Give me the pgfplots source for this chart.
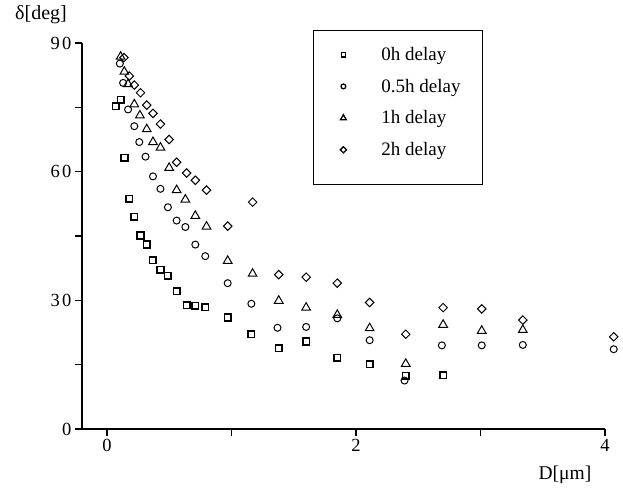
\documentclass[border=0pt]{standalone}
\usepackage{fontspec}
\setmainfont{Liberation Serif}
\newfontfamily\ticksfont[LetterSpace=12]{Liberation Serif}
\usepackage{pgfplots}
\pgfplotsset{compat=1.18}
\pgfplotsset{
 legimg/.style={legend image code/.code={\path[draw=none,fill=none] (0pt,-6pt) rectangle (46pt,6pt); \draw[##1] plot coordinates {(10pt,0pt)};}},
 legimglast/.style={legend image code/.code={\path[draw=none,fill=none] (0pt,-20pt) rectangle (46pt,6pt); \draw[##1] plot coordinates {(10pt,0pt)};}},
}
\begin{document}
\begin{tikzpicture}
\begin{axis}[
 scale only axis, width=523pt, height=386pt,
 xmin=-0.2, xmax=4, ymin=0, ymax=90,
 axis x line=bottom, axis y line=left,
 axis line style={-, line width=1.2pt},
 tick align=outside, major tick length=7pt, minor tick length=7pt,
 every tick/.style={line width=1.2pt, black},
 xtick={0,2,4}, minor xtick={1,3},
 ytick={0,30,60,90}, minor ytick={15,45,75},
 /pgf/number format/assume math mode=true,
 tick label style={font=\ticksfont\fontsize{18.5}{20}\selectfont},
 clip=false,
 xlabel={D[μm]},
 xlabel style={at={(axis description cs:0.9235,-0.119)}, anchor=center, font=\fontsize{19.5}{21}\selectfont},
 ylabel={δ[deg]},
 ylabel style={rotate=-90, at={(axis description cs:-0.0784,1.0725)}, anchor=center, font=\fontsize{20}{22}\selectfont},
 legend style={at={(axis description cs:0.4417,1.0337)}, anchor=north west, draw=black, line width=0.8pt,
   font=\fontsize{19}{21}\selectfont, row sep=13pt, inner xsep=20pt, inner ysep=15pt},
 legend cell align=left,
 legimg,
]
\addplot[only marks, mark=square, mark size=3.3pt, mark options={line width=1.6pt}, legend image post style={mark size=2.2pt, mark options={line width=1.4pt}}] coordinates {
(0.072,75.3) (0.11,76.8) (0.142,63.2) (0.18,53.7) (0.22,49.5) (0.27,45.1) (0.32,43.0)
(0.37,39.4) (0.43,37.1) (0.49,35.7) (0.56,32.1) (0.64,28.9) (0.71,28.7) (0.79,28.4)
(0.97,26.0) (1.16,22.1) (1.38,18.8) (1.60,20.4) (1.85,16.6) (2.11,15.1) (2.40,12.4) (2.70,12.5)
};
\addlegendentry{0h delay}
\addplot[only marks, mark=o, mark size=3.5pt, mark options={line width=1pt}, legend image post style={mark size=2.4pt, mark options={line width=1.3pt}}] coordinates {
(0.104,85.2) (0.13,80.7) (0.17,74.5) (0.22,70.6) (0.26,66.9) (0.31,63.5) (0.37,58.9)
(0.43,56.0) (0.49,51.7) (0.56,48.6) (0.63,47.1) (0.71,43.0) (0.79,40.3) (0.97,34.0)
(1.16,29.2) (1.37,23.6) (1.60,23.8) (1.85,25.8) (2.11,20.7) (2.39,11.3) (2.69,19.5)
(3.01,19.5) (3.34,19.6) (4.07,18.6)
};
\addlegendentry{0.5h delay}
\addplot[only marks, mark=triangle, mark size=5pt, mark options={line width=1pt}, legend image post style={mark size=3.4pt, mark options={line width=1.3pt}}] coordinates {
(0.11,86.8) (0.14,83.3) (0.17,80.4) (0.22,75.7) (0.265,73.1) (0.32,69.9) (0.37,66.9)
(0.43,65.6) (0.50,60.9) (0.56,55.7) (0.63,53.5) (0.71,49.7) (0.80,47.2) (0.97,39.2)
(1.17,36.2) (1.38,29.9) (1.60,28.3) (1.85,26.6) (2.11,23.5) (2.40,15.2) (2.70,24.3)
(3.01,22.9) (3.34,23.1)
};
\addlegendentry{1h delay}
\addplot[only marks, mark=square, mark size=3pt, mark options={line width=1pt, rotate=45}, legend image post style={mark size=2.2pt, mark options={line width=1.3pt, rotate=45}}, legimglast] coordinates {
(0.137,86.6) (0.18,82.3) (0.22,80.2) (0.27,78.4) (0.32,75.5) (0.37,73.6) (0.43,71.1)
(0.50,67.5) (0.56,62.2) (0.64,59.7) (0.71,58.0) (0.80,55.7) (0.97,47.3) (1.17,52.9)
(1.38,36.0) (1.60,35.4) (1.85,34.0) (2.11,29.5) (2.40,22.1) (2.70,28.3) (3.01,28.0)
(3.34,25.4) (4.07,21.5)
};
\addlegendentry{2h delay}
\end{axis}
\pgfresetboundingbox
\path (-82pt,-60pt) rectangle (541pt,429pt);
\end{tikzpicture}
\end{document}
